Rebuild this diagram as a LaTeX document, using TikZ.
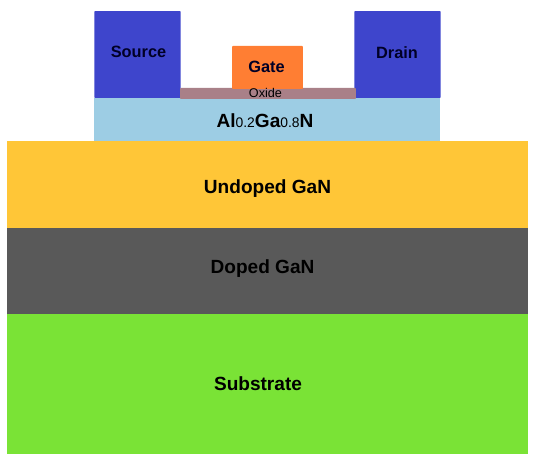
\documentclass[tikz,border=0pt]{standalone}
\usepackage{fontspec}
\setmainfont{Liberation Sans}
\usepackage{tikz}
\usetikzlibrary{positioning}
\definecolor{undopedcol}{HTML}{FFC637}
\definecolor{dopedcol}{HTML}{595959}
\definecolor{subcol}{HTML}{7AE336}
\definecolor{algancol}{HTML}{9DCDE4}
\definecolor{contactcol}{HTML}{3E45CC}
\definecolor{gatecol}{HTML}{FF7E33}
\definecolor{oxidecol}{HTML}{A98088}
\newcommand{\subnum}[1]{{\fontsize{7.9}{9}\selectfont\mdseries #1}}

\begin{document}
\begin{tikzpicture}[x=0.02cm, y=-0.02cm,
    layer/.style={minimum width=10.42cm, inner sep=0pt, outer sep=0pt},
    contact/.style={fill=contactcol, minimum width=1.73cm, minimum height=1.74cm, inner sep=0pt, outer sep=0pt, rounded corners=0.5pt},
    lbl/.style={font=\fontsize{10.85}{12}\selectfont\bfseries, text=black, inner sep=0pt},
    smalllbl/.style={font=\fontsize{9.3}{10}\selectfont\bfseries, text=black!85!blue, inner sep=0pt},
]
  \useasboundingbox (0,0) rectangle (537,462);

  % stack of layers
  \node[layer, fill=undopedcol, minimum height=1.74cm] (undoped) at (267.5,184.5) {};
  \node[layer, fill=dopedcol, minimum height=1.72cm] (doped) at (267.5,271) {};
  \node[layer, fill=subcol, minimum height=2.8cm] (substrate) at (267.5,384) {};

  % device on top
  \node[fill=algancol, minimum width=6.92cm, minimum height=0.86cm, inner sep=0pt] (algan) at (267,119.5) {};
  \node[contact] (source) at (137.5,54.5) {};
  \node[contact] (drain) at (397.5,54.5) {};
  \node[fill=oxidecol, minimum width=3.52cm, minimum height=0.22cm, inner sep=0pt, rounded corners=0.5pt] (oxide) at (268,93.5) {};
  \node[fill=gatecol, minimum width=1.42cm, minimum height=0.86cm, inner sep=0pt, rounded corners=0.5pt] (gate) at (267.5,67.5) {};

  % labels
  \node[smalllbl] (sourcelbl) at (138.5,52) {Source};
  \node[smalllbl] (drainlbl) at (397,53) {Drain};
  \node[smalllbl] (gatelbl) at (266.5,67) {Gate};
  \node[font=\fontsize{7.2}{8}\selectfont, text=black, inner sep=0pt] (oxidelbl) at (265.5,93) {Oxide};
  \node[lbl] (alganlbl) at (265,121) {Al\subnum{0.2}Ga\subnum{0.8}N};
  \node[lbl] (undopedlbl) at (267.5,188.5) {Undoped GaN};
  \node[lbl] (dopedlbl) at (262.5,268.5) {Doped GaN};
  \node[lbl] (sublbl) at (258,384) {Substrate};
\end{tikzpicture}
\end{document}
